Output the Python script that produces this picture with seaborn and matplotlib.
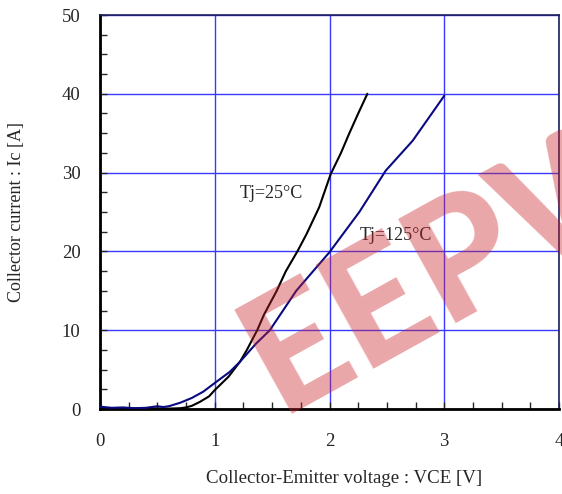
import numpy as np
import pandas as pd
import seaborn as sns
import matplotlib.pyplot as plt
from matplotlib.ticker import MultipleLocator

# Ic-VCE output characteristics
vce_25 = [0.0, 0.2, 0.4, 0.6, 0.7, 0.75, 0.8, 0.87, 0.95, 1.0, 1.12, 1.22, 1.28, 1.37,
          1.43, 1.54, 1.62, 1.72, 1.80, 1.91, 2.01, 2.10, 2.17, 2.25, 2.33]
ic_25 = [0.1, 0.05, 0.1, 0.05, 0.1, 0.2, 0.4, 0.9, 1.6, 2.4, 4.1, 6.0, 7.5, 10.0,
         12.0, 15.0, 17.5, 20.0, 22.2, 25.6, 29.8, 32.5, 34.9, 37.5, 40.0]

vce_125 = [0.0, 0.1, 0.2, 0.3, 0.4, 0.5, 0.55, 0.6, 0.7, 0.8, 0.9, 1.0, 1.13, 1.22,
           1.36, 1.48, 1.71, 2.0, 2.26, 2.49, 2.725, 3.0]
ic_125 = [0.3, 0.15, 0.2, 0.1, 0.15, 0.35, 0.25, 0.35, 0.8, 1.4, 2.2, 3.3, 4.7, 6.0,
          8.3, 10.0, 15.0, 19.9, 25.0, 30.25, 34.05, 39.75]

labels = ["Tj=25°C", "Tj=125°C"]
label_pos = [(1.49, 27.3), (2.58, 22.0)]

df = pd.concat([
    pd.DataFrame({"vce": vce_25, "ic": ic_25, "temp": labels[0]}),
    pd.DataFrame({"vce": vce_125, "ic": ic_125, "temp": labels[1]}),
])

sns.set_style("white")
plt.rcParams['font.family'] = ['Liberation Serif', 'DejaVu Serif']

fig = plt.figure(figsize=(5.62, 4.94), dpi=100)
ax = fig.add_axes([100 / 562, 85 / 494, 459 / 562, 394 / 494])

sns.lineplot(data=df, x="vce", y="ic", hue="temp", sort=False, estimator=None,
             palette={labels[0]: "black", labels[1]: "#0a0a80"},
             linewidth=1.5, legend=False, ax=ax, zorder=3)

ax.set_xlim(0, 4)
ax.set_ylim(0, 50)
ax.xaxis.set_major_locator(MultipleLocator(1))
ax.xaxis.set_minor_locator(MultipleLocator(0.25))
ax.yaxis.set_major_locator(MultipleLocator(10))
ax.yaxis.set_minor_locator(MultipleLocator(2.5))
ax.grid(True, which="major", color="#3a3aff", linewidth=1.0)
ax.tick_params(which="both", direction="in", bottom=True, left=True,
               top=False, right=False, labelsize=13.5)
ax.tick_params(axis="x", which="major", pad=17)
ax.tick_params(axis="y", which="major", pad=14)
ax.tick_params(which="major", length=5, width=1)
ax.tick_params(which="minor", length=5, width=1)

for side in ["left", "bottom"]:
    ax.spines[side].set_color("black")
    ax.spines[side].set_linewidth(2)
for side in ["top", "right"]:
    ax.spines[side].set_color("#1e1e5a")
    ax.spines[side].set_linewidth(1.2)
    ax.spines[side].set_visible(True)

ax.set_xlabel("Collector-Emitter voltage : VCE [V]", fontsize=13.6)
ax.set_ylabel("Collector current : Ic [A]", fontsize=13)
ax.xaxis.set_label_coords((344 - 100) / 459, -(470 - 409) / 394)
ax.yaxis.set_label_coords(-(100 - 25) / 459, 0.5)

for txt, (tx, ty) in zip(labels, label_pos):
    ax.text(tx, ty, txt, fontsize=13, ha="center", va="center", zorder=4)

# site watermark
fig.text(280 / 562, (494 - 414) / 494, "EEPW", family=["Lato", "DejaVu Sans"],
         fontweight="black", fontsize=118, color="#cc2229", alpha=0.4, rotation=29,
         rotation_mode="anchor", ha="left", va="baseline", zorder=10)

fig.savefig("out.png", dpi=100)
